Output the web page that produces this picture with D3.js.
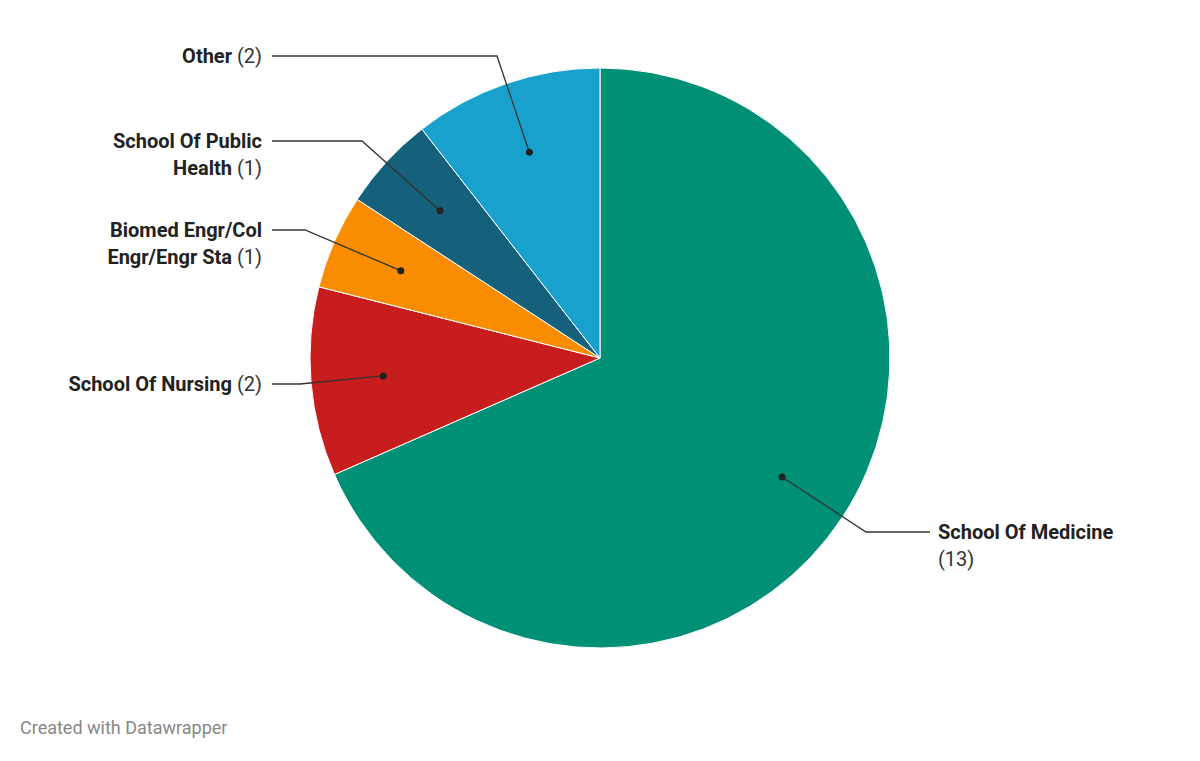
<!DOCTYPE html>
<html>
<head>
<meta charset="utf-8">
<script src="https://cdn.jsdelivr.net/npm/d3@7"></script>
<style>
  body { margin: 0; background: #fff; font-family: Roboto, sans-serif; }
</style>
</head>
<body>
<svg id="chart" width="1200" height="761"></svg>
<script>
const categories = ['School Of Medicine', 'School Of Nursing', 'Biomed Engr/Col Engr/Engr Sta', 'School Of Public Health', 'Other'];
const values = [13, 2, 1, 1, 2];
const colors = ['#009076', '#c71e1d', '#fa8c00', '#15607a', '#18a1cd'];
// label text split into lines: [bold lines], value appended to last line or own line
const labelLines = [
  [['School Of Medicine', true]],
  [['School Of Nursing', true]],
  [['Biomed Engr/Col', true], ['Engr/Engr Sta', true]],
  [['School Of Public', true], ['Health', true]],
  [['Other', true]]
];
// layout: elbow point, label anchor x, first line y, side
const labelLayout = [
  { elbow: [866, 532], x: 938, y: 532, side: 'right', valueOwnLine: true },
  { elbow: [300, 384], x: 262, y: 384, side: 'left' },
  { elbow: [305, 230], x: 262, y: 230, side: 'left' },
  { elbow: [362, 141], x: 262, y: 141, side: 'left' },
  { elbow: [497, 56], x: 262, y: 56, side: 'left' }
];

const cx = 600, cy = 358, r = 290;
const svg = d3.select('#chart');
const g = svg.append('g').attr('transform', `translate(${cx},${cy})`);

const data = categories.map((c, i) => ({ name: c, value: values[i], i }));
const pie = d3.pie().value(d => d.value).sort(null);
const arc = d3.arc().innerRadius(0).outerRadius(r);
const dotArc = d3.arc().innerRadius(r * 0.75).outerRadius(r * 0.75);
const arcs = pie(data);

g.selectAll('path.slice')
  .data(arcs)
  .join('path')
  .attr('d', arc)
  .attr('fill', d => colors[d.data.i])
  .attr('stroke', '#fff')
  .attr('stroke-width', 1);

arcs.forEach(d => {
  const i = d.data.i;
  const L = labelLayout[i];
  const [dx, dy] = dotArc.centroid(d);
  const px = cx + dx, py = cy + dy;
  const endX = L.side === 'right' ? L.x - 8 : L.x + 10;
  svg.append('polyline')
    .attr('points', `${px},${py} ${L.elbow[0]},${L.elbow[1]} ${endX},${L.elbow[1]}`)
    .attr('fill', 'none').attr('stroke', '#333').attr('stroke-width', 1.3);
  svg.append('circle').attr('cx', px).attr('cy', py).attr('r', 3.5).attr('fill', '#222');

  const anchor = L.side === 'right' ? 'start' : 'end';
  const lines = labelLines[i];
  lines.forEach((ln, k) => {
    const t = svg.append('text')
      .attr('x', L.x).attr('y', L.y + k * 27)
      .attr('dy', '0.35em')
      .attr('text-anchor', anchor)
      .attr('font-size', 20).attr('fill', '#222');
    t.append('tspan').attr('font-weight', 700).text(ln[0]);
    if (k === lines.length - 1 && !L.valueOwnLine) {
      t.append('tspan').attr('font-weight', 400).attr('fill', '#333').text(` (${values[i]})`);
    }
  });
  if (L.valueOwnLine) {
    svg.append('text')
      .attr('x', L.x).attr('y', L.y + lines.length * 27)
      .attr('dy', '0.35em').attr('text-anchor', anchor)
      .attr('font-size', 20).attr('fill', '#333')
      .text(`(${values[i]})`);
  }
});

svg.append('text')
  .attr('x', 20).attr('y', 728).attr('dy', '0.35em')
  .attr('font-size', 18).attr('fill', '#888')
  .text('Created with Datawrapper');
</script>
</body>
</html>
